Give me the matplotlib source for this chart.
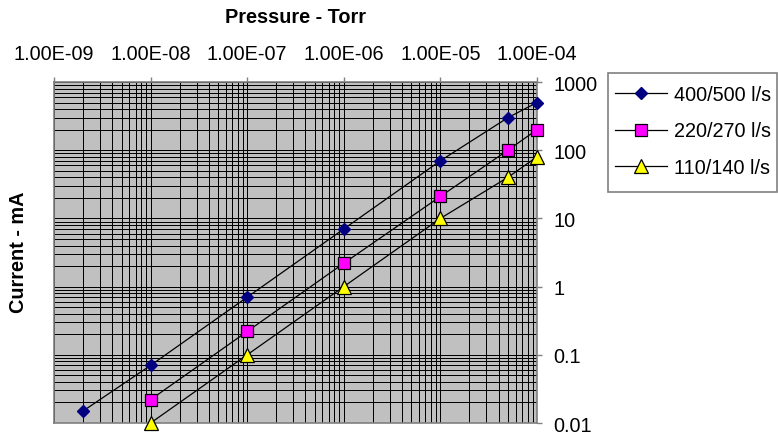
import matplotlib
matplotlib.use("Agg")
import matplotlib.pyplot as plt
from matplotlib.patches import Rectangle
from matplotlib.ticker import FixedLocator, FuncFormatter, LogLocator, NullFormatter

plt.rcParams['font.family'] = ['Liberation Sans', 'DejaVu Sans']

# Data
series_names = ["400/500 l/s", "220/270 l/s", "110/140 l/s"]
x_400 = [2e-9, 1e-8, 1e-7, 1e-6, 1e-5, 5e-5, 1e-4]
y_400 = [0.015, 0.07, 0.7, 7, 70, 300, 500]
x_220 = [1e-8, 1e-7, 1e-6, 1e-5, 5e-5, 1e-4]
y_220 = [0.022, 0.22, 2.2, 21, 100, 200]
x_110 = [1e-8, 1e-7, 1e-6, 1e-5, 5e-5, 1e-4]
y_110 = [0.01, 0.1, 1, 10, 40, 80]
x_ticks = [1e-9, 1e-8, 1e-7, 1e-6, 1e-5, 1e-4]
y_ticks = [0.01, 0.1, 1, 10, 100, 1000]
y_tick_labels = ["0.01", "0.1", "1", "10", "100", "1000"]

W, H = 778, 439
fig = plt.figure(figsize=(W / 100, H / 100), dpi=100)
L, R, T, B = 54, 537, 83, 424
ax = fig.add_axes([L / W, 1 - B / H, (R - L) / W, (B - T) / H])
ax.set_facecolor('#C0C0C0')
ax.set_xscale('log')
ax.set_yscale('log')
ax.set_xlim(1e-9, 1e-4)
ax.set_ylim(0.01, 1000)

fs = 14.3
ax.xaxis.set_major_locator(FixedLocator(x_ticks))
ax.xaxis.set_minor_locator(LogLocator(base=10, subs=range(2, 10), numticks=50))
ax.xaxis.set_minor_formatter(NullFormatter())
ax.xaxis.set_major_formatter(FuncFormatter(lambda v, p: "%.2E" % v))
ax.yaxis.set_major_locator(FixedLocator(y_ticks))
ax.yaxis.set_minor_locator(LogLocator(base=10, subs=range(2, 10), numticks=50))
ax.yaxis.set_minor_formatter(NullFormatter())
ax.yaxis.set_major_formatter(FuncFormatter(lambda v, p: y_tick_labels[y_ticks.index(v)] if v in y_ticks else ""))

ax.xaxis.tick_top()
ax.yaxis.tick_right()
ax.tick_params(axis='x', which='major', direction='out', length=3.6, width=1, color='#808080',
               labelsize=fs, pad=10, top=True, bottom=False)
ax.tick_params(axis='y', which='major', direction='out', length=3.6, width=1, color='#808080',
               labelsize=fs, pad=8, right=True, left=False)
ax.tick_params(which='minor', length=0, top=False, bottom=False, left=False, right=False)

ax.grid(True, which='both', color='black', linewidth=0.72, antialiased=False)
ax.set_axisbelow(True)
for s in ax.spines.values():
    s.set_color('#808080')
    s.set_linewidth(1.2)

l1, = ax.plot(x_400, y_400, color='black', linewidth=0.9, marker='D', markersize=6.3,
              markerfacecolor='#000080', markeredgecolor='#000080', clip_on=False, zorder=3)
l2, = ax.plot(x_220, y_220, color='black', linewidth=0.9, marker='s', markersize=9,
              markerfacecolor='#FF00FF', markeredgecolor='black', markeredgewidth=0.9,
              clip_on=False, zorder=3)
l3, = ax.plot(x_110, y_110, color='black', linewidth=0.9, marker='^', markersize=10,
              markerfacecolor='#FFFF00', markeredgecolor='black', markeredgewidth=0.9,
              clip_on=False, zorder=3)

fig.text((L + R) / 2 / W, 1 - 23 / H, "Pressure - Torr", ha='center', va='baseline',
         fontsize=fs, fontweight='bold')
fig.text(18.5 / W, 1 - 252 / H, "Current - mA", ha='center', va='center', rotation=90,
         fontsize=fs, fontweight='bold')

# legend frame
fig.patches.append(Rectangle((608 / W, 1 - 193 / H), 169 / W, 119 / H,
                             transform=fig.transFigure, facecolor='white',
                             edgecolor='#808080', linewidth=1.2, zorder=1))
leg = fig.legend([l1, l2, l3], series_names, loc='upper left',
                 bbox_to_anchor=(615 / W, 1 - 86 / H), borderaxespad=0,
                 fontsize=fs, frameon=False, handlelength=2.6, handletextpad=0.35,
                 labelspacing=0.88, borderpad=0)
leg.set_zorder(2)

fig.savefig("out.png", dpi=100)
